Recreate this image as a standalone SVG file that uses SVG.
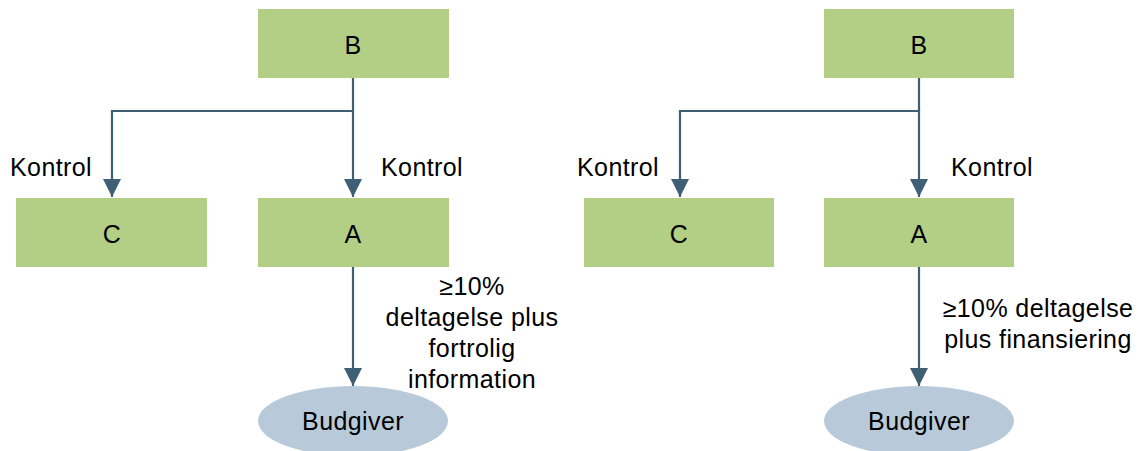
<svg xmlns="http://www.w3.org/2000/svg" width="1144" height="451" viewBox="0 0 1144 451">
<style>
.box{fill:#b3cf85;}
.ell{fill:#b8cad9;}
.t{font-family:"Liberation Sans",Arial,sans-serif;font-size:25px;letter-spacing:0.4px;fill:#000;}
.m{text-anchor:middle;}
.c{fill:none;stroke:#3f5f75;stroke-width:2.2;}
</style>
<defs>
<marker id="a" viewBox="0 0 18 18" refX="18" refY="9" markerWidth="18" markerHeight="18" markerUnits="userSpaceOnUse" orient="auto">
<path d="M0,0 L18,9 L0,18 z" fill="#3f5f75"/>
</marker>
</defs>
<rect width="1144" height="451" fill="#fff"/>
<g id="connectors">
<path class="c" d="M353,78 V111 H112 V197" marker-end="url(#a)"/>
<path class="c" d="M353,111 V197" marker-end="url(#a)"/>
<path class="c" d="M353,267 V386" marker-end="url(#a)"/>
<path class="c" d="M919,78 V111 H680 V197" marker-end="url(#a)"/>
<path class="c" d="M919,111 V197" marker-end="url(#a)"/>
<path class="c" d="M919,267 V386" marker-end="url(#a)"/>
</g>
<g id="labels">
<text class="t" x="10" y="176">Kontrol</text>
<text class="t" x="381" y="176">Kontrol</text>
<text class="t m" x="472" y="295">≥10%</text>
<text class="t m" x="472" y="326">deltagelse plus</text>
<text class="t m" x="472" y="357">fortrolig</text>
<text class="t m" x="472" y="388">information</text>
<text class="t" x="577" y="176">Kontrol</text>
<text class="t" x="951" y="176">Kontrol</text>
<text class="t m" x="1038" y="317">≥10% deltagelse</text>
<text class="t m" x="1038" y="348">plus finansiering</text>
</g>
<g id="nodeLB"><rect class="box" x="258" y="9" width="191" height="69"/><text class="t m" x="353" y="54">B</text></g>
<g id="nodeLC"><rect class="box" x="16" y="198" width="191" height="69"/><text class="t m" x="112" y="243">C</text></g>
<g id="nodeLA"><rect class="box" x="258" y="198" width="191" height="69"/><text class="t m" x="353" y="243">A</text></g>
<g id="nodeLBud"><ellipse class="ell" cx="353" cy="421" rx="95" ry="35"/><text class="t m" x="353" y="430">Budgiver</text></g>
<g id="nodeRB"><rect class="box" x="824" y="9" width="190" height="69"/><text class="t m" x="919" y="54">B</text></g>
<g id="nodeRC"><rect class="box" x="584" y="198" width="190" height="69"/><text class="t m" x="679" y="243">C</text></g>
<g id="nodeRA"><rect class="box" x="824" y="198" width="190" height="69"/><text class="t m" x="919" y="243">A</text></g>
<g id="nodeRBud"><ellipse class="ell" cx="919" cy="421" rx="95" ry="35"/><text class="t m" x="919" y="430">Budgiver</text></g>
</svg>
